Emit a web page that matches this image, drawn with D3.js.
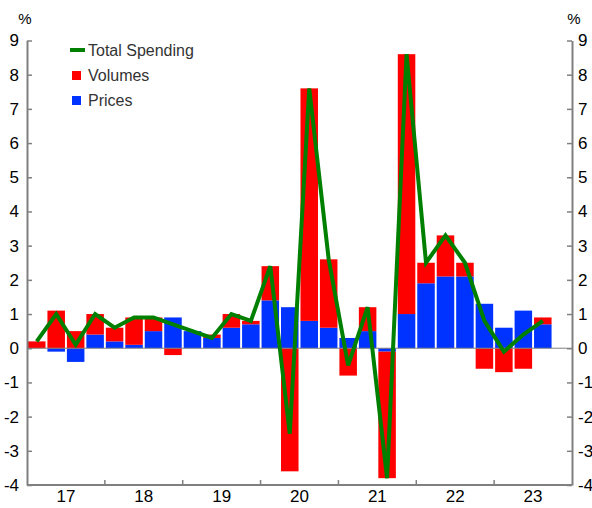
<!DOCTYPE html>
<html>
<head>
<meta charset="utf-8">
<script src="https://cdn.jsdelivr.net/npm/d3@7"></script>
<style>
  body { margin: 0; background: #fff; }
  svg text { font-family: "Liberation Sans", Arial, sans-serif; }
</style>
</head>
<body>
<div id="chart"></div>
<script>
// Quarterly contributions, 2017 Q1 - 2023 Q3 (%)
var quarters = ["2017Q1","2017Q2","2017Q3","2017Q4",
                "2018Q1","2018Q2","2018Q3","2018Q4",
                "2019Q1","2019Q2","2019Q3","2019Q4",
                "2020Q1","2020Q2","2020Q3","2020Q4",
                "2021Q1","2021Q2","2021Q3","2021Q4",
                "2022Q1","2022Q2","2022Q3","2022Q4",
                "2023Q1","2023Q2","2023Q3"];
var prices  = [0, -0.1, -0.4, 0.4, 0.2, 0.1, 0.5, 0.9, 0.5, 0.3, 0.6, 0.7,
               1.4, 1.2, 0.8, 0.6, 0.3, 0.5, -0.1, 1.0, 1.9, 2.1, 2.1, 1.3,
               0.6, 1.1, 0.7];
var volumes = [0.2, 1.1, 0.5, 0.6, 0.4, 0.8, 0.4, -0.2, 0, 0.1, 0.4, 0.1,
               1.0, -3.6, 6.8, 2.0, -0.8, 0.7, -3.7, 7.6, 0.6, 1.2, 0.4, -0.6,
               -0.7, -0.6, 0.2];
var total   = [0.2, 1.0, 0.1, 1.0, 0.6, 0.9, 0.9, 0.7, 0.5, 0.3, 1.0, 0.8,
               2.4, -2.5, 7.6, 2.6, -0.5, 1.2, -3.8, 8.6, 2.5, 3.3, 2.5, 0.8,
               -0.1, 0.4, 0.8];
var years   = ["17", "18", "19", "20", "21", "22", "23"];
var yTicks  = [-4, -3, -2, -1, 0, 1, 2, 3, 4, 5, 6, 7, 8, 9];

var width = 592, height = 508;
var mLeft = 27, mRight = 572, mTop = 40.5, mBottom = 485;

var svg = d3.select("#chart").append("svg")
  .attr("width", width)
  .attr("height", height);

// 28 quarter slots, 4 per year
var x = d3.scaleBand()
  .domain(d3.range(28))
  .range([mLeft, mRight])
  .paddingInner(0.1)
  .paddingOuter(0.05);

var xYear = d3.scaleBand()
  .domain(years)
  .range([mLeft, mRight]);

var y = d3.scaleLinear()
  .domain([-4, 9])
  .range([mBottom, mTop]);

// stack: positives go up from 0, negatives go down from 0
var rects = [];
quarters.forEach(function(q, i) {
  var pos = 0, neg = 0;
  [["p", prices[i], "#0033ff"], ["v", volumes[i], "#ff0000"]].forEach(function(s) {
    var v = s[1];
    if (v >= 0) { rects.push({i: i, y0: pos, y1: pos + v, c: s[2]}); pos += v; }
    else        { rects.push({i: i, y0: neg, y1: neg + v, c: s[2]}); neg += v; }
  });
});

svg.append("g").selectAll("rect")
  .data(rects.filter(function(d) { return d.y1 !== d.y0; }))
  .enter().append("rect")
    .attr("x", function(d) { return x(d.i); })
    .attr("width", x.bandwidth())
    .attr("y", function(d) { return y(Math.max(d.y0, d.y1)); })
    .attr("height", function(d) { return Math.abs(y(d.y0) - y(d.y1)); })
    .attr("fill", function(d) { return d.c; });

// zero line
svg.append("line")
  .attr("x1", mLeft).attr("x2", mRight)
  .attr("y1", y(0)).attr("y2", y(0))
  .attr("stroke", "#808080").attr("stroke-width", 1);

// total spending line
var line = d3.line()
  .x(function(d, i) { return x(i) + x.bandwidth() / 2; })
  .y(function(d) { return y(d); });

svg.append("path")
  .datum(total)
  .attr("d", line)
  .attr("fill", "none")
  .attr("stroke", "#008000")
  .attr("stroke-width", 4)
  .attr("stroke-linejoin", "miter");

// axes
function styleAxis(g) {
  g.select(".domain").attr("stroke", "#808080").attr("stroke-width", 2);
  g.selectAll(".tick line").attr("stroke", "#808080").attr("stroke-width", 1.5);
  g.selectAll(".tick text").attr("fill", "#000").style("font-size", "17px");
}
var plainNum = function(d) { return String(d); };

var yLeft = svg.append("g")
  .attr("transform", "translate(" + mLeft + ",0)")
  .call(d3.axisLeft(y).tickValues(yTicks).tickFormat(plainNum)
        .tickSize(-5).tickSizeOuter(0).tickPadding(8));
styleAxis(yLeft);

var yRight = svg.append("g")
  .attr("transform", "translate(" + mRight + ",0)")
  .call(d3.axisRight(y).tickValues(yTicks).tickFormat(plainNum)
        .tickSize(-5).tickSizeOuter(0).tickPadding(6));
styleAxis(yRight);

var xAxis = svg.append("g")
  .attr("transform", "translate(0," + mBottom + ")")
  .call(d3.axisBottom(xYear).tickSize(0).tickPadding(5));
styleAxis(xAxis);
xAxis.select(".domain").attr("d", "M" + mLeft + ",0H" + mRight);

// year boundary ticks pointing up
svg.append("g").selectAll("line")
  .data(years.slice(1))
  .enter().append("line")
    .attr("x1", function(d) { return xYear(d); })
    .attr("x2", function(d) { return xYear(d); })
    .attr("y1", mBottom).attr("y2", mBottom - 5)
    .attr("stroke", "#808080").attr("stroke-width", 1.5);

// % units
svg.append("text").attr("x", mLeft - 2).attr("y", 24)
  .attr("text-anchor", "middle").style("font-size", "15px").attr("fill", "#000").text("%");
svg.append("text").attr("x", mRight + 2).attr("y", 24)
  .attr("text-anchor", "middle").style("font-size", "15px").attr("fill", "#000").text("%");

// legend
var legend = svg.append("g").attr("transform", "translate(70,50)");
legend.append("line").attr("x1", 0).attr("x2", 15).attr("y1", 0).attr("y2", 0)
  .attr("stroke", "#008000").attr("stroke-width", 4);
legend.append("rect").attr("x", 2).attr("y", 21).attr("width", 9).attr("height", 9).attr("fill", "#ff0000");
legend.append("rect").attr("x", 2).attr("y", 46).attr("width", 9).attr("height", 9).attr("fill", "#0033ff");
[["Total Spending", 0], ["Volumes", 25], ["Prices", 50]].forEach(function(l) {
  legend.append("text").attr("x", 18).attr("y", l[1] + 6)
    .style("font-size", "16px").attr("fill", "#333").text(l[0]);
});
</script>
</body>
</html>
